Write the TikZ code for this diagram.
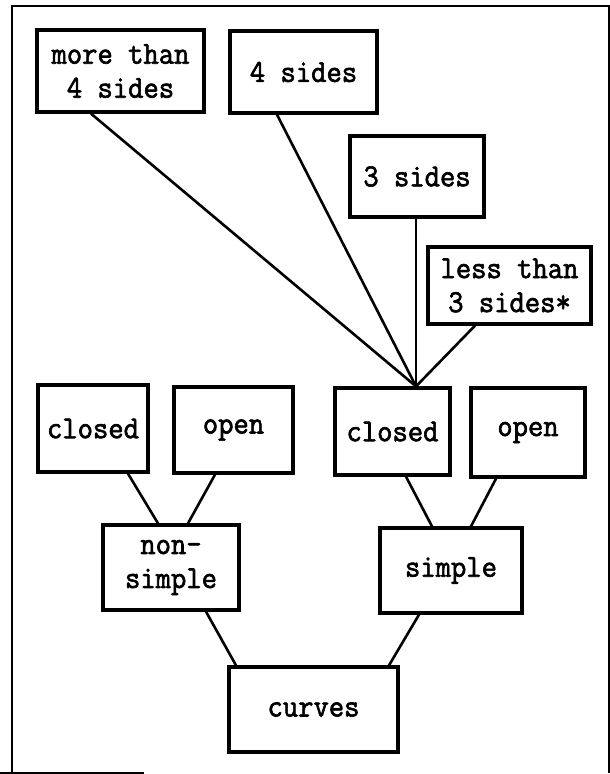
\documentclass[tikz,border=0pt]{standalone}
\usepackage{fontspec}
\newfontfamily\twfont[FakeStretch=0.93,FakeBold=2]{Latin Modern Mono}
\usetikzlibrary{calc}
\begin{document}
\begin{tikzpicture}[x=1pt,y=-1pt,
  box/.style={draw, line width=3.3pt, inner sep=0pt, align=center,
    font=\fontsize{32}{34}\selectfont\twfont},
  link/.style={line width=2.6pt},
  frame/.style={line width=2.8pt}]
\useasboundingbox (0,0) rectangle (610,774);
% outer frame
\draw[frame] (12,773) -- (12,6) -- (609,6) -- (609,773);
\draw[frame] (0,773) -- (144,773);
% nodes
\node[box, minimum width=167pt, minimum height=82pt] (more) at (120.5,71) {more than\\4 sides};
\node[box, minimum width=147pt, minimum height=82pt] (four) at (303.5,72) {4 sides};
\node[box, minimum width=134pt, minimum height=81pt] (three) at (417,176.5) {3 sides};
\node[box, minimum width=163pt, minimum height=77pt] (less) at (509.5,285.5) {less than\\3 sides*};
\node[box, minimum width=110pt, minimum height=87pt] (closedL) at (93,428.5) {closed};
\node[box, minimum width=119pt, minimum height=86pt] (openL) at (233.5,430) {open};
\node[box, minimum width=115pt, minimum height=87pt] (closedR) at (392.5,431.5) {closed};
\node[box, minimum width=114pt, minimum height=89pt] (openR) at (528,432.5) {open};
\node[box, minimum width=136pt, minimum height=85pt] (nonsimple) at (171,567.5) {non-\\simple};
\node[box, minimum width=142pt, minimum height=85pt] (simple) at (451,570.5) {simple};
\node[box, minimum width=169pt, minimum height=85pt] (curves) at (313.5,709.5) {curves};
\coordinate (J) at ([xshift=23.5pt]closedR.north);
% connectors
\draw[link] ([xshift=-29.5pt]more.south) -- (J);
\draw[link] ([xshift=-26.5pt]four.south) -- (J);
\draw[link] ([xshift=-1pt]three.south) -- (J);
\draw[link] ([xshift=-34.5pt]less.south) -- (J);
\draw[link] ([xshift=35pt]closedL.south) -- ([xshift=-13pt]nonsimple.north);
\draw[link] ([xshift=-18.5pt]openL.south) -- ([xshift=17pt]nonsimple.north);
\draw[link] ([xshift=13.5pt]closedR.south) -- ([xshift=-19pt]simple.north);
\draw[link] ([xshift=-32pt]openR.south) -- ([xshift=20pt]simple.north);
\draw[link] ([xshift=35pt]nonsimple.south) -- ([xshift=-77.5pt]curves.north);
\draw[link] ([xshift=-32pt]simple.south) -- ([xshift=75.5pt]curves.north);
\end{tikzpicture}
\end{document}
